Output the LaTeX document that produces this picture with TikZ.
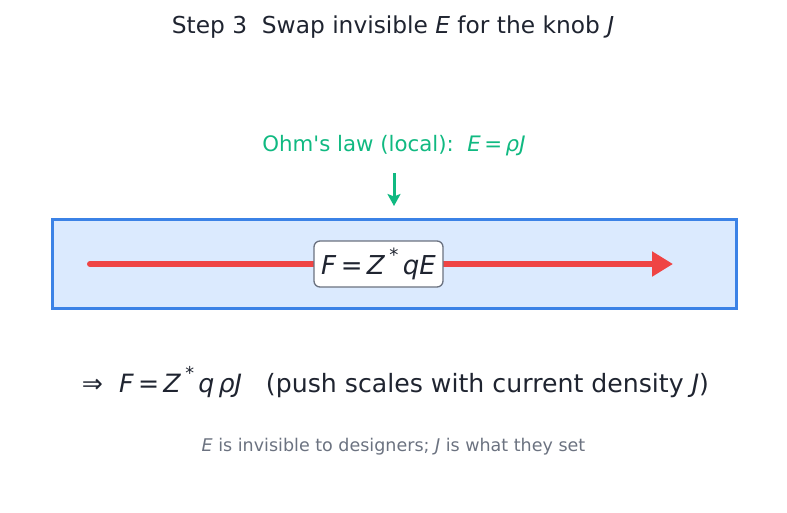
\documentclass[tikz,border=0pt]{standalone}
\usepackage{fontspec}
\setmainfont{DejaVu Sans}
\newfontfamily\plainfont{DejaVu Sans}
\usetikzlibrary{arrows.meta}
\definecolor{titlec}{HTML}{1F2430}
\definecolor{greenc}{HTML}{10B981}
\definecolor{boxfill}{HTML}{DBEAFE}
\definecolor{boxdraw}{HTML}{3B82E6}
\definecolor{redc}{HTML}{EF4444}
\definecolor{grayc}{HTML}{6B7280}
\definecolor{eqdraw}{HTML}{6B7280}
\newcommand{\mi}[1]{\textit{#1}}
\newcommand{\zs}{\mi{Z}\,\raisebox{0.5em}{\fontsize{0.7em}{1em}\selectfont *}}
\begin{document}
\begin{tikzpicture}[x=1pt,y=-1pt,
  lbl/.style={inner sep=0pt, anchor=center},
  band/.style={draw=boxdraw, fill=boxfill, line width=3pt},
  eqbox/.style={draw=eqdraw, fill=white, line width=1.3pt, rounded corners=6pt, minimum width=129pt, minimum height=46pt, inner sep=0pt},
  redarrow/.style={draw=redc, line width=6pt, line cap=round, -{Triangle[length=21pt,width=24pt]}},
  greenarrow/.style={draw=greenc, line width=3pt, -{Stealth[length=12pt,width=13pt,inset=2.5pt]}}]
\useasboundingbox (0,0) rectangle (787,512);
\node[lbl, text=titlec, font=\fontsize{23.3}{27}\selectfont] (title) at (393,27) {Step 3\ \ Swap invisible \mi{E} for the knob \mi{J}};
\node[lbl, text=greenc, font=\plainfont\fontsize{21.3}{25}\selectfont] (ohm) at (394,145.5) {Ohm's law (local):\ \ \mi{E}\,=\,\mi{ρJ}};
\coordinate (gs) at (394,173);
\coordinate (ge) at (394,206);
\draw[greenarrow] (gs) -- (ge);
\node[band, minimum width=684pt, minimum height=89pt, inner sep=0pt] (band) at (394,263.5) {};
\coordinate (rs) at (90,264);
\coordinate (re) at (673,264);
\draw[redarrow] (rs) -- (re);
\node[eqbox, text=titlec, font=\fontsize{26}{30}\selectfont] (eq) at (378.5,264) {\mi{F}\,=\,\zs\,\mi{qE}};
\node[lbl, text=titlec, font=\fontsize{25.2}{29}\selectfont] (res) at (395.5,382) {⇒\ \ \mi{F}\,=\,\zs\,\mi{q}\,\mi{ρJ}\ \ \ (push scales with current density \mi{J})};
\node[lbl, text=grayc, font=\fontsize{17.5}{21}\selectfont] (note) at (393.5,447) {\mi{E} is invisible to designers; \mi{J} is what they set};
\end{tikzpicture}
\end{document}
